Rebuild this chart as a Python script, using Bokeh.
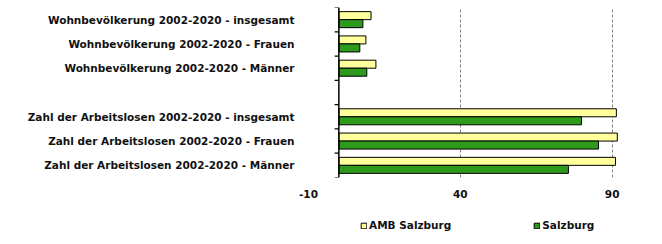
from bokeh.plotting import figure
from bokeh.layouts import column
from bokeh.models import Range1d, FixedTicker, Span, Legend, LegendItem, ColumnDataSource
from bokeh.embed import file_html
from bokeh.resources import INLINE

categories = [
    "Wohnbevölkerung 2002-2020 - insgesamt",
    "Wohnbevölkerung 2002-2020 - Frauen",
    "Wohnbevölkerung 2002-2020 - Männer",
    "",
    "Zahl der Arbeitslosen 2002-2020 - insgesamt",
    "Zahl der Arbeitslosen 2002-2020 - Frauen",
    "Zahl der Arbeitslosen 2002-2020 - Männer",
]
amb_salzburg = [10.6, 8.9, 12.2, None, 91.4, 91.7, 91.1]
salzburg = [7.9, 6.9, 9.2, None, 79.9, 85.5, 75.6]
x_ticks = [-10, 40, 90]
x_tick_labels = ["-10", "40", "90"]
series_names = ["AMB Salzburg", "Salzburg"]

FONT = "DejaVu Sans"
FS = "10.5px"
TXT = "#111111"
YELLOW = "#FFFF9C"
GREEN = "#2E9A1C"

n = len(categories)
ypos = [n - 1 - i + 0.5 for i in range(n)]
bar_h = 0.33

idx = [i for i in range(n) if amb_salzburg[i] is not None]
src_a = ColumnDataSource(dict(y=[ypos[i] + bar_h / 2 for i in idx], v=[amb_salzburg[i] for i in idx]))
src_s = ColumnDataSource(dict(y=[ypos[i] - bar_h / 2 for i in idx], v=[salzburg[i] for i in idx]))

p = figure(width=662, height=205, output_backend="svg", toolbar_location=None,
           x_range=Range1d(-10, 100), y_range=Range1d(0, n),
           min_border_left=308, min_border_right=20, min_border_top=7, min_border_bottom=28)
p.outline_line_color = None
p.background_fill_color = "white"
p.border_fill_color = "white"

r_a = p.hbar(y="y", left=0, right="v", height=bar_h, source=src_a,
             fill_color=YELLOW, line_color="black", line_width=1)
r_s = p.hbar(y="y", left=0, right="v", height=bar_h, source=src_s,
             fill_color=GREEN, line_color="black", line_width=1)

# y axis at x = 0 with ticks at category boundaries
p.add_layout(Span(location=0, dimension="height", line_color="black", line_width=1.5))
bounds = list(range(n + 1))
tick_len = 1.4
p.segment(x0=[-tick_len] * len(bounds), x1=[0] * len(bounds), y0=bounds, y1=bounds,
          line_color="black", line_width=1.2)

# x axis
p.xaxis.ticker = FixedTicker(ticks=x_ticks)
p.xaxis.major_label_overrides = dict(zip(x_ticks, x_tick_labels))
p.xaxis.axis_line_color = None
p.xaxis.major_tick_line_color = None
p.xaxis.minor_tick_line_color = None
p.xaxis.major_label_text_font = FONT
p.xaxis.major_label_text_font_style = "bold"
p.xaxis.major_label_text_font_size = FS
p.xaxis.major_label_text_color = TXT
p.xaxis.major_label_standoff = 6

# y axis labels
p.yaxis.ticker = FixedTicker(ticks=ypos)
p.yaxis.major_label_overrides = {ypos[i]: categories[i] for i in range(n)}
p.yaxis.axis_line_color = None
p.yaxis.major_tick_line_color = None
p.yaxis.minor_tick_line_color = None
p.yaxis.major_label_text_font = FONT
p.yaxis.major_label_text_font_style = "bold"
p.yaxis.major_label_text_font_size = FS
p.yaxis.major_label_text_color = TXT
p.yaxis.major_label_standoff = 8

p.xgrid.ticker = FixedTicker(ticks=x_ticks)
p.xgrid.grid_line_color = "#808080"
p.xgrid.grid_line_dash = "3 2"
p.ygrid.grid_line_color = None

# legend strip below the chart (its frame is aligned with the chart's frame)
pl = figure(width=662, height=39, output_backend="svg", toolbar_location=None,
            x_range=Range1d(-10, 100), y_range=Range1d(n + 10, n + 11),
            min_border_left=308, min_border_right=20, min_border_top=0, min_border_bottom=0)
pl.axis.visible = False
pl.grid.visible = False
pl.outline_line_color = None
pl.background_fill_color = "white"
pl.border_fill_color = "white"
la = pl.hbar(y="y", left=0, right="v", height=bar_h, source=src_a,
             fill_color=YELLOW, line_color="black", line_width=1)
ls = pl.hbar(y="y", left=0, right="v", height=bar_h, source=src_s,
             fill_color=GREEN, line_color="black", line_width=1)
legend = Legend(items=[LegendItem(label=series_names[0], renderers=[la]),
                       LegendItem(label=series_names[1], renderers=[ls])],
                orientation="horizontal", location=(52, 13),
                glyph_width=7, glyph_height=7, label_standoff=2, spacing=82,
                padding=0, margin=0, border_line_color=None, background_fill_alpha=0,
                label_text_font=FONT, label_text_font_style="bold",
                label_text_font_size=FS, label_text_color=TXT,
                label_height=10)
pl.add_layout(legend)

layout = column(p, pl, spacing=0)
open("out.html", "w").write(file_html(layout, INLINE))
